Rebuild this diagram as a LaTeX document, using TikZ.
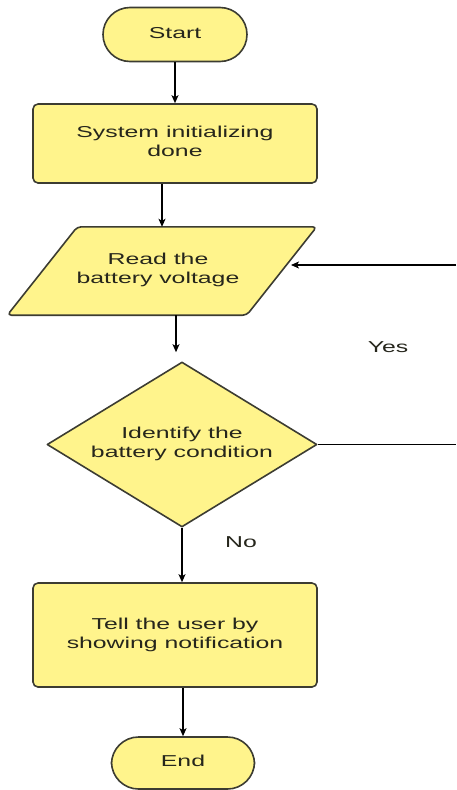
\documentclass[tikz,border=0pt]{standalone}
\usepackage{graphicx}
\usepackage{fontspec}
\setmainfont{Liberation Sans}
\usetikzlibrary{arrows.meta,shapes.geometric}
\definecolor{fillY}{HTML}{FFF48C}
\definecolor{edgeG}{HTML}{3C3C32}
\definecolor{txtG}{HTML}{26261C}
\newcommand{\wtxt}[1]{\scalebox{1.57}[1]{\begin{tabular}{@{}c@{}}#1\end{tabular}}}
\tikzset{
  shp/.style={draw=edgeG, line width=1.6pt, fill=fillY, line join=round},
  procbox/.style={shp, rectangle, rounded corners=5pt, minimum width=284pt, inner sep=0pt},
  termbox/.style={shp, rectangle, rounded corners=27pt, minimum width=144pt, minimum height=54pt, inner sep=0pt},
  conn/.style={draw=black, line width=1.2pt},
  arr/.style={conn, -{Stealth[length=8pt,width=7pt,inset=2pt]}},
  lbl/.style={inner sep=0pt}
}
\begin{document}
\begin{tikzpicture}[x=1pt, y=-1pt, font=\fontsize{15.8}{19}\selectfont, text=txtG]
\useasboundingbox (0,0) rectangle (456,790);

% nodes
\node[termbox] (start) at (175,34.5) {\wtxt{Start}};
\node[procbox, minimum height=79pt] (init) at (175,143.5) {\wtxt{System initializing\\done}};
\node[rectangle, inner sep=0pt, minimum width=239pt, minimum height=88pt] (read) at (162,271) {};
\draw[shp, rounded corners=4pt]
  ([xshift=35pt]read.north west) -- ([xshift=35pt]read.north east)
  -- ([xshift=-35pt]read.south east) -- ([xshift=-35pt]read.south west) -- cycle;
\node (readtxt) at (158,270) {\wtxt{Read the\\battery voltage}};
\node[shp, diamond, aspect=1.636, minimum width=270pt, minimum height=165pt, inner sep=0pt] (dia) at (182,444.5) {\wtxt{Identify the\\battery condition}};
\node[procbox, minimum height=104pt] (notify) at (175,635) {\wtxt{Tell the user by\\showing notification}};
\node[termbox, minimum width=143pt, minimum height=52pt] (end) at (183,763) {\wtxt{End}};

\coordinate (yesR) at (456,444.5);
\coordinate (backR) at (456,265);
\coordinate (readin) at (291,265);

% labels
\node[lbl] (yes) at (388,347) {\scalebox{1.57}[1]{Yes}};
\node[lbl] (no) at (241,542) {\scalebox{1.57}[1]{No}};

% connectors
\draw[arr] (start.south) -- (init.north);
\draw[arr] (init.south -| read.north) -- (read.north);
\draw[arr, shorten >=9pt] ([xshift=14pt]read.south) -- ([xshift=14pt]read.south |- dia.north);
\draw[conn] (dia.east) -- (yesR);
\draw[arr] (backR) -- (readin);
\draw[arr] (dia.south) -- (dia.south |- notify.north);
\draw[arr] (notify.south -| end.north) -- (end.north);
\end{tikzpicture}
\end{document}
